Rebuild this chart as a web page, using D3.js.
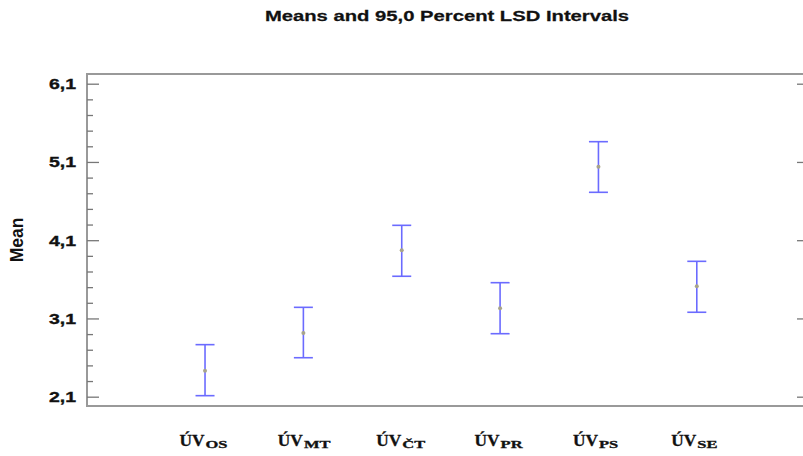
<!DOCTYPE html>
<html>
<head>
<meta charset="utf-8">
<script src="https://cdn.jsdelivr.net/npm/d3@7"></script>
<style>
  body { margin: 0; background: #fff; }
  svg { display: block; }
  .tick text { font-family: Arial, "Liberation Sans", sans-serif; font-weight: bold; font-size: 15px; fill: #111; stroke: #111; stroke-width: 0.35px; }
</style>
</head>
<body>
<svg id="canvas" width="803" height="456"></svg>
<script>
// groups (main part + subscript)
const groups = ["OS", "MT", "ČT", "PR", "PS", "SE"]
const means = [2.432, 2.914, 3.971, 3.230, 5.039, 3.511]
const lower = [2.113, 2.598, 3.639, 2.905, 4.712, 3.179]
const upper = [2.765, 3.242, 4.290, 3.557, 5.359, 3.830]
const yTicks = [2.1, 3.1, 4.1, 5.1, 6.1]
const yMinor = [2.3, 2.5, 2.7, 2.9, 3.3, 3.5, 3.7, 3.9, 4.3, 4.5, 4.7, 4.9, 5.3, 5.5, 5.7, 5.9]

const canvas = d3.select("#canvas")

const plotLeft = 87, plotRight = 804, plotTop = 74, plotBottom = 406
const stretch = 1.3  // text in the original is a bit wide

const x = d3.scaleLinear().domain([-1.2, 6.09]).range([plotLeft, plotRight])
const y = d3.scaleLinear().domain([1.981, 6.224]).range([plotBottom, plotTop])

const fmt = (d) => d.toFixed(1).replace(".", ",")

// frame
canvas.append("rect")
      .attr("x", plotLeft).attr("y", plotTop)
      .attr("width", plotRight - plotLeft).attr("height", plotBottom - plotTop)
      .attr("fill", "none").attr("stroke", "#999").attr("stroke-width", 2)

// left axis: major with labels, minor without
const yAxis = d3.axisLeft(y).tickValues(yTicks).tickFormat(fmt).tickSize(-12).tickPadding(11)
const gy = canvas.append("g").attr("transform", "translate(" + plotLeft + ",0)").call(yAxis)
gy.select(".domain").remove()
gy.selectAll(".tick line").attr("stroke", "#777").attr("stroke-width", 1.3)
gy.selectAll(".tick text")
  .attr("x", -11 / stretch)
  .attr("transform", "scale(" + stretch + ",1)")

const gyMinor = canvas.append("g").attr("transform", "translate(" + plotLeft + ",0)")
                      .call(d3.axisLeft(y).tickValues(yMinor).tickFormat("").tickSize(-6))
gyMinor.select(".domain").remove()
gyMinor.selectAll(".tick line").attr("stroke", "#777").attr("stroke-width", 1.3)

// right axis ticks
const gr = canvas.append("g").attr("transform", "translate(" + plotRight + ",0)")
                 .call(d3.axisRight(y).tickValues(yTicks).tickFormat("").tickSize(-7))
gr.select(".domain").remove()
gr.selectAll(".tick line").attr("stroke", "#777").attr("stroke-width", 1.3)

// title
canvas.append("g")
      .attr("transform", "translate(447,21) scale(1.35,1)")
      .append("text")
      .attr("text-anchor", "middle")
      .style("font-family", "Arial, 'Liberation Sans', sans-serif")
      .style("font-weight", "bold").style("font-size", "15px").style("fill", "#111")
      .style("stroke", "#111").style("stroke-width", "0.25px")
      .text("Means and 95,0 Percent LSD Intervals")

// y label
canvas.append("text")
      .attr("transform", "translate(23," + ((plotTop + plotBottom) / 2) + ") rotate(-90)")
      .attr("text-anchor", "middle")
      .style("font-family", "Arial, 'Liberation Sans', sans-serif")
      .style("font-weight", "bold").style("font-size", "17.5px").style("fill", "#111")
      .text("Mean")

// error bars
const bars = canvas.selectAll(".bar")
                   .data(groups)
                   .enter()
                   .append("g")
                   .attr("class", "bar")
                   .attr("transform", (d, i) => "translate(" + x(i) + ",0)")

const blue = "#6b6bff"
bars.append("line")
    .attr("x1", 0).attr("x2", 0)
    .attr("y1", (d, i) => y(lower[i])).attr("y2", (d, i) => y(upper[i]))
    .attr("stroke", blue).attr("stroke-width", 1.6)
bars.append("line")
    .attr("x1", -9.5).attr("x2", 9.5)
    .attr("y1", (d, i) => y(upper[i])).attr("y2", (d, i) => y(upper[i]))
    .attr("stroke", blue).attr("stroke-width", 1.6)
bars.append("line")
    .attr("x1", -9.5).attr("x2", 9.5)
    .attr("y1", (d, i) => y(lower[i])).attr("y2", (d, i) => y(lower[i]))
    .attr("stroke", blue).attr("stroke-width", 1.6)
bars.append("circle")
    .attr("cx", 0).attr("cy", (d, i) => y(means[i]))
    .attr("r", 2)
    .attr("fill", "#a8a48a")

// category labels: ÚV with subscript
const cats = canvas.selectAll(".cat")
                   .data(groups)
                   .enter()
                   .append("g")
                   .attr("class", "cat")
                   .attr("transform", (d, i) => "translate(" + x(i) + ",446)")
                   .style("font-family", "'Liberation Serif', 'Times New Roman', serif")
                   .style("font-weight", "bold").style("fill", "#111")
                   .style("stroke", "#111").style("stroke-width", "0.3px")
cats.append("text")
    .attr("text-anchor", "end")
    .attr("transform", "translate(-0.5,0) scale(1.05,1)")
    .style("font-size", "16.5px")
    .text("ÚV")
cats.append("text")
    .attr("text-anchor", "start")
    .attr("transform", "translate(0.5,2) scale(1.5,1)")
    .style("font-size", "11px")
    .text(d => d)
</script>
</body>
</html>
